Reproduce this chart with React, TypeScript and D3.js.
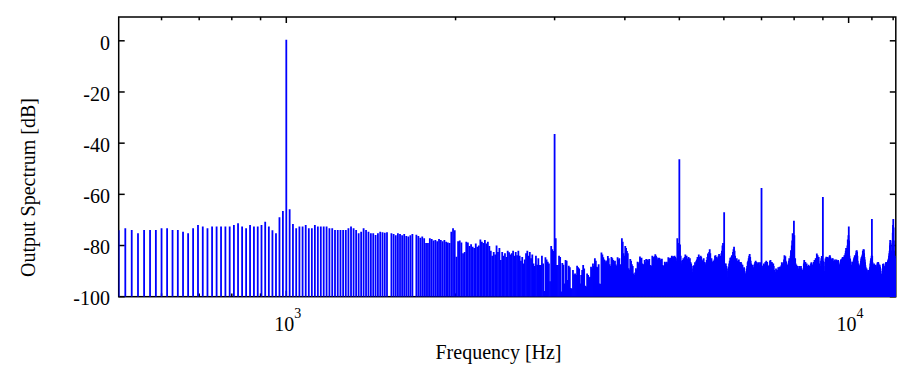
import React from 'react';
import * as d3 from 'd3';

// FFT bin grid: the 1 kHz tone and its harmonics land on bins
const TONE_HZ = 1000;
const BIN_HZ = 2000 / 145;
const FLOOR_DB = -100;

// bin levels in dB
const binsBelowTone = [
  -74, -73.3, -73.9, -75.2, -73.9, -73.9, -73.9, -73.3, -73.3, -73.9,
  -73.9, -74.6, -75.2, -73.3, -72.0, -72.6, -73.3, -72.6, -72.6, -72.6,
  -72.6, -72.6, -72.0, -71.3, -72.6, -73.3, -72.0, -72.6, -72.6, -72.0,
  -70.7, -72.6, -74.0, -75.2, -69.0, -66.5,
];

const bins1kTo2k = [
  0.4, -65.8, -71.6, -73.3, -72.6, -72.6, -72.0, -73.3, -73.3, -72.0,
  -72.6, -72.6, -72.6, -72.6, -73.3, -73.3, -73.9, -73.9, -73.9, -73.9,
  -73.9, -73.3, -72.6, -73.3, -73.9, -75.2, -74.6, -73.3, -73.9, -74.6,
  -75.2, -75.2, -75.9, -75.2, -74.6, -74.8, -75.0, -74.8, -100, -75.2,
  -75.5, -76.0, -75.2, -75.5, -76.0, -75.5, -76.3, -76.5, -76.0, -75.5,
  -100, -75.8, -76.3, -77.0, -76.5, -77.2, -79.0, -79.0, -77.2, -77.5,
  -78.0, -77.8, -78.3, -77.5, -77.8, -78.3, -77.8, -78.5, -78.8, -79.0,
  -74.6, -73.3, -74.0,
];

const bins2kTo3k = [
  -84.4, -78.3, -78.0, -78.8, -83.0, -82.5, -78.5, -78.8, -80.2, -79.5,
  -80.5, -81.0, -79.2, -80.5, -80.0, -77.6, -78.5, -79.0, -77.8, -79.2,
  -78.5, -80.2, -82.0, -84.0, -82.5, -83.5, -80.0, -82.5, -81.0, -85.7,
  -82.5, -84.0, -83.0, -84.5, -82.0, -82.6, -83.5, -83.0, -82.0, -84.0,
  -82.5, -83.8, -82.0, -84.0, -86.0, -84.5, -87.0, -85.5, -83.0, -82.0,
  -84.0, -82.5, -85.0, -83.5, -87.0, -88.0, -84.0, -87.5, -85.0, -87.6,
  -87.6, -84.0, -87.0, -97.8, -84.6, -85.5, -86.3, -87.0, -94.0, -80.2,
  -81.5, -82.1, -36.4,
];

const bins3kTo5k = [
  -77.2, -87.6, -87.6, -84, -84.5, -98, -86.8, -87.5, -94.8, -85.7,
  -86, -93.5, -87.9, -88.5, -96.6, -97, -89.6, -91.3, -90.9, -91.5,
  -87.9, -88.5, -89, -94.8, -91.5, -89.6, -87.6, -89, -95.7, -96,
  -90.9, -91.5, -92.5, -92.2, -88.3, -89, -87, -88, -85, -86,
  -88.3, -88.5, -87.3, -94.8, -95, -82.7, -83.5, -84.6, -85.5, -86.5,
  -85.9, -86.5, -84.1, -85, -87.3, -88, -84.5, -85, -85.7, -86.5,
  -86, -87.4, -88, -84.6, -85.5, -85, -87.3, -88, -77.2, -78.5,
  -83, -84, -80.2, -81, -82.1, -83, -88.9, -89.5, -85.3, -86,
  -87.3, -88, -90.9, -91.5, -90.5, -88.9, -89.5, -86.3, -87, -86.5,
  -84.3, -85, -84.8, -87, -87.5, -87.3, -85.7, -86.5, -85.3, -86,
  -85.5, -86, -85.3, -87.6, -88, -87.8, -84, -84.5, -85, -84.2,
  -83.4, -84, -84.6, -85.5, -85, -84.8, -85, -85.5, -86, -85.2,
  -87.6, -88, -87.8, -86.3, -87, -86.5, -86.3, -87, -84.6, -85.5,
  -85, -84.8, -85.5, -84, -84.5, -84.2, -85, -84, -84.5, -85,
  -86, -77.2, -79, -82, -46.3,
];

const bins5kTo7k = [
  -79.6, -84, -87, -86, -85.7, -85, -86, -84.5, -83.5, -85,
  -84, -85.1, -85.5, -84.5, -86, -85, -86.4, -87, -88, -90.3,
  -89, -87.7, -88, -86.5, -87.7, -86, -85.5, -84.5, -86, -83.5,
  -84.5, -85.1, -84, -84.4, -85.5, -86, -86, -85, -86.4, -87,
  -87.7, -86.5, -85.7, -84.5, -83.1, -84, -82.5, -81.5, -83, -85.5,
  -85, -86.4, -87, -86, -87, -85.5, -84, -83.8, -85, -84.5,
  -85.7, -85, -84, -83.3, -84.5, -85, -84, -83, -82, -80,
  -79, -82, -67, -87, -88.3, -87, -88, -89, -92.3, -90,
  -88.3, -87, -86, -84.8, -85.5, -84.4, -83.8, -84.5, -82.5, -81.5,
  -80.5, -82, -84, -85.9, -86.5, -85, -86, -87.7, -86.4, -85.5,
  -87, -86.4, -87.7, -86.4, -87, -88.3, -87.5, -89, -89.6, -88.5,
  -90, -91, -92, -90.5, -89, -88, -86.5, -86, -85, -84,
  -83.3, -84.5, -86, -87, -88.3, -87.5, -89, -89.6, -88.5, -87.5,
  -87, -86.4, -86, -87, -86.4, -87, -87.7, -87, -86.5, -88,
  -87.7, -86.5, -87, -88, -57.5,
];

const bins7kTo9k = [
  -89, -88.9, -88, -87.7, -87, -88.3, -87.5, -86.4, -87, -86,
  -87.5, -86.4, -87.7, -88, -89, -88.9, -87.5, -86, -85.7, -86.5,
  -87, -86.4, -87, -88, -87, -88, -89.6, -91.6, -90.5, -90.3,
  -89, -90.9, -89.5, -90, -89.6, -88.5, -90, -89, -88.3, -89.6,
  -88.3, -88.3, -87.7, -86.5, -87.7, -87, -88, -86.5, -85.5, -83.8,
  -85, -84.2, -86, -86.4, -87, -88.3, -87.5, -88, -87.7, -86,
  -85, -87, -86, -84, -81.8, -83, -80, -78, -75.2, -79,
  -82, -70.3, -76, -85, -85.1, -87, -88.3, -87.5, -89, -88.9,
  -88, -89.6, -90, -89, -88, -89.6, -90.5, -89, -88, -89,
  -90, -89.6, -91.6, -90.5, -89, -87, -85.7, -86.5, -87, -86.4,
  -87.5, -88.3, -87, -88, -88.3, -89, -88.9, -87.5, -88.9, -88,
  -89, -88.9, -88, -87, -86.5, -87.7, -88.3, -87.5, -88.3, -87,
  -86.4, -87, -85.7, -86.5, -85.7, -85, -86, -85, -83.1, -84,
  -83.8, -85, -86, -84.5, -87, -89, -92.9, -90, -88, -86,
  -85, -84.1, -86, -88, -61,
];

const bins9kTo12k = [
  -86, -88, -92.3, -100, -90, -86.4, -85.1, -86, -84.4, -85,
  -86, -85.5, -84.5, -85, -86, -85.5, -84.8, -84, -83.8, -84.5,
  -85, -85.4, -86, -86.4, -85.5, -85, -85.1, -86, -87, -86.5,
  -87, -86, -85.5, -86.5, -87, -86, -85.5, -88.9, -88, -87,
  -86, -85.7, -86.5, -87.5, -88.3, -87.5, -88, -87, -86, -85.5,
  -86, -85.4, -86, -85, -84.5, -85.5, -85.7, -85, -84.5, -83.8,
  -84.5, -84, -83, -82, -81, -82.5, -83.5, -82, -80, -77.6,
  -80, -76, -72.6, -78, -84, -85.5, -85.1, -86, -86.4, -87.5,
  -88.5, -90.9, -89.5, -88, -86.4, -87, -86, -85.5, -85, -84.5,
  -83.8, -84.5, -85, -84, -83, -82, -81.8, -82.5, -84, -86,
  -88.3, -87.7, -87, -87.7, -88, -90, -92.3, -91, -88, -86,
  -85.1, -84.5, -85, -84, -83.5, -82, -82.4, -81.5, -81.6, -83,
  -84.5, -85.5, -86.5, -87.7, -88.5, -89.6, -90, -89, -89.6, -90.5,
  -91.5, -92.9, -91, -90, -89.6, -90, -91, -89, -88.3, -87,
  -86, -85, -86.5, -84, -69.6, -84, -86.5, -88.3, -88, -88.3,
  -87.5, -87, -88, -88.9, -88, -87.5, -88.5, -89.6, -89, -88.5,
  -89, -87.7, -87, -86.5, -87, -86.4, -87, -87.5, -88, -88.3,
  -87.5, -88.3, -89, -90, -91.5, -92.3, -91, -92.9, -92, -91,
  -89, -87.2, -88, -87, -88, -89, -89.6, -88.5, -89, -88,
  -87.5, -86.5, -87, -86.4, -87, -87, -86.4, -87, -86, -85.5,
  -86.5, -85, -84, -83, -82, -80, -77.8, -79, -82, -83.5,
  -84, -83, -82, -80, -78, -75, -72, -69.6, -73, -78,
  -82, -84, -85, -84, -86, -85, -86,
];

const yTicks = [0, -20, -40, -60, -80, -100];
const xDecades = [
  { hz: 1000, exp: '3' },
  { hz: 10000, exp: '4' },
];
const xMinorTicks = [600, 700, 800, 900, 2000, 3000, 4000, 5000, 6000, 7000, 8000, 9000, 11000, 12000];

const spectrum = [
  ...binsBelowTone, ...bins1kTo2k, ...bins2kTo3k, ...bins3kTo5k,
  ...bins5kTo7k, ...bins7kTo9k, ...bins9kTo12k,
];
const firstBinHz = TONE_HZ - binsBelowTone.length * BIN_HZ;
const bins = spectrum.map((db, i) => ({ hz: firstBinHz + i * BIN_HZ, db }));

const W = 915;
const H = 389;
const FONT = '"Liberation Serif", "Times New Roman", Times, serif';

export default function App() {
  const x = d3.scaleLog()
    .domain([bins[0].hz, bins[bins.length - 1].hz])
    .range([118.7, 895.8]);
  const y = d3.scaleLinear().domain([-100, 0]).range([296.7, 40.8]);

  const [left, right] = x.range();
  const top = 17;
  const bottom = y(FLOOR_DB);

  return (
    <svg width={W} height={H} style={{ position: 'absolute', left: 0, top: 0 }} fontFamily={FONT}>
      <rect width={W} height={H} fill="#fff" />
      <defs>
        <clipPath id="plot-area">
          <rect x={left} y={top} width={right - left} height={bottom - top} />
        </clipPath>
      </defs>

      {/* axes box and inward ticks */}
      <g stroke="#000" strokeWidth={1.5} fill="none">
        <rect x={left} y={top} width={right - left} height={bottom - top} />
        {yTicks.map(t => (
          <g key={`y${t}`}>
            <line x1={left} x2={left + 6} y1={y(t)} y2={y(t)} />
            <line x1={right} x2={right - 6} y1={y(t)} y2={y(t)} />
          </g>
        ))}
        {xDecades.map(d => (
          <g key={`xd${d.hz}`}>
            <line x1={x(d.hz)} x2={x(d.hz)} y1={top} y2={top + 6} />
            <line x1={x(d.hz)} x2={x(d.hz)} y1={bottom} y2={bottom - 6} />
          </g>
        ))}
        {xMinorTicks.map(t => (
          <g key={`xm${t}`}>
            <line x1={x(t)} x2={x(t)} y1={top} y2={top + 3.3} />
            <line x1={x(t)} x2={x(t)} y1={bottom} y2={bottom - 3.3} />
          </g>
        ))}
      </g>

      {/* spectrum stems */}
      <g clipPath="url(#plot-area)" stroke="#0000ff" strokeWidth={1.8}>
        {bins.map((b, i) => (b.db > FLOOR_DB ? (
          <line key={i} x1={x(b.hz)} x2={x(b.hz)} y1={bottom} y2={y(b.db)} />
        ) : null))}
      </g>

      {/* tick labels */}
      <g fontSize={20} fill="#000">
        {yTicks.map(t => (
          <text key={`yl${t}`} x={110} y={y(t) + 8.7} textAnchor="end">{t}</text>
        ))}
        {xDecades.map(d => (
          <text key={`xl${d.hz}`} x={x(d.hz) - 12} y={330.5}>
            10<tspan dy={-12.5} fontSize={14}>{d.exp}</tspan>
          </text>
        ))}
        <text x={498.5} y={359} textAnchor="middle">Frequency [Hz]</text>
        <text transform="translate(34.5,187.5) rotate(-90)" textAnchor="middle">Output Spectrum [dB]</text>
      </g>
    </svg>
  );
}
